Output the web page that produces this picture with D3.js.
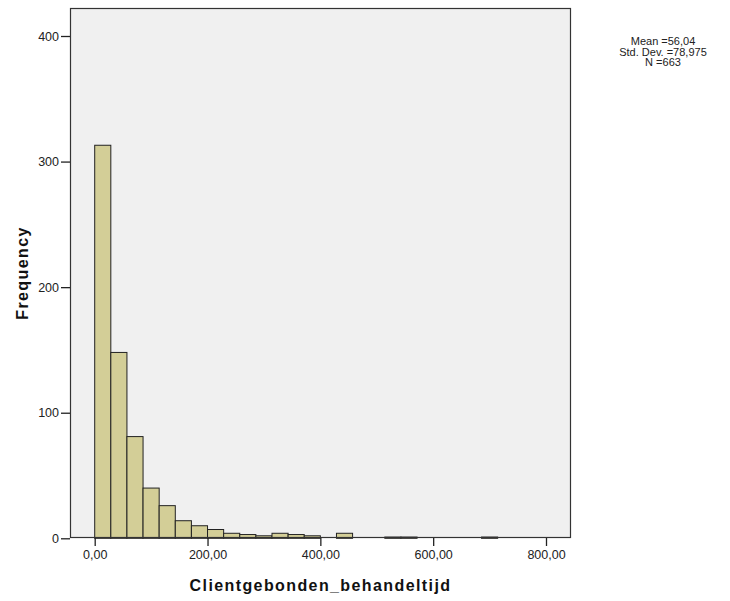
<!DOCTYPE html>
<html>
<head>
<meta charset="utf-8">
<script src="https://cdn.jsdelivr.net/npm/d3@7"></script>
<style>
  body { margin: 0; background: #fff; }
  svg { display: block; font-family: "Liberation Sans", Arial, sans-serif; }
</style>
</head>
<body>
<svg id="chart" width="730" height="601"></svg>
<script>
// Histogram data (bin width 200/7)
const binWidth = 200 / 7;
const counts = [313, 148, 81, 40, 26, 14, 10, 7, 4, 3, 2, 4, 3, 2, 0, 4, 0, 0, 1, 1, 0, 0, 0, 0, 1];
const xTicks = [0, 200, 400, 600, 800];
const yTicks = [0, 100, 200, 300, 400];
const statsLines = ["Mean =56,04", "Std. Dev. =78,975", "N =663"];
const xTitle = "Clientgebonden_behandeltijd";
const yTitle = "Frequency";

const bins = counts.map((c, i) => ({ x0: i * binWidth, x1: (i + 1) * binWidth, count: c }));

const svg = d3.select("#chart");
const frame = { left: 70, top: 8, right: 571, bottom: 538 };

const x = d3.scaleLinear().domain([0, 800]).range([94.7, 546]);
const y = d3.scaleLinear().domain([0, 400]).range([538.3, 36]);

// frame background
svg.append("rect")
  .attr("x", frame.left).attr("y", frame.top)
  .attr("width", frame.right - frame.left).attr("height", frame.bottom - frame.top)
  .attr("fill", "#f0f0f0");

// bars
svg.append("g").selectAll("rect").data(bins.filter(d => d.count > 0)).join("rect")
  .attr("x", d => x(d.x0))
  .attr("width", d => x(d.x1) - x(d.x0))
  .attr("y", d => y(d.count))
  .attr("height", d => y(0) - y(d.count))
  .attr("fill", "#d3ce97")
  .attr("stroke", "#222")
  .attr("stroke-width", 1);

// frame border
svg.append("rect")
  .attr("x", frame.left + 0.5).attr("y", frame.top + 0.5)
  .attr("width", frame.right - frame.left - 1).attr("height", frame.bottom - frame.top - 1)
  .attr("fill", "none").attr("stroke", "#333").attr("stroke-width", 1.2);

const fmt = v => d3.format(".2f")(v).replace(".", ",");

// x axis
const xAxis = svg.append("g")
  .attr("transform", `translate(0,${frame.bottom})`)
  .call(d3.axisBottom(x).tickValues(xTicks).tickFormat(fmt).tickSize(8).tickPadding(4));
xAxis.select(".domain").remove();
xAxis.selectAll(".tick line").attr("stroke", "#222").attr("stroke-width", 1.3);
xAxis.selectAll(".tick text").attr("font-size", "12.5px").attr("fill", "#222")
  .attr("font-family", "'Liberation Sans', Arial, sans-serif");

// y axis
const yAxis = svg.append("g")
  .attr("transform", `translate(${frame.left},0)`)
  .call(d3.axisLeft(y).tickValues(yTicks).tickFormat(d3.format("d")).tickSize(9).tickPadding(2));
yAxis.select(".domain").remove();
yAxis.selectAll(".tick line").attr("stroke", "#222").attr("stroke-width", 1.3);
yAxis.selectAll(".tick text").attr("font-size", "12.5px").attr("fill", "#222")
  .attr("font-family", "'Liberation Sans', Arial, sans-serif");

// titles
svg.append("text")
  .attr("x", (frame.left + frame.right) / 2).attr("y", 591)
  .attr("text-anchor", "middle")
  .attr("font-size", "16px").attr("font-weight", "bold")
  .attr("letter-spacing", "1.4px")
  .attr("fill", "#111")
  .text(xTitle);

svg.append("text")
  .attr("transform", `translate(28,${(frame.top + frame.bottom) / 2}) rotate(-90)`)
  .attr("text-anchor", "middle")
  .attr("font-size", "16px").attr("font-weight", "bold")
  .attr("letter-spacing", "1.4px")
  .attr("fill", "#111")
  .text(yTitle);

// stats
svg.append("g").selectAll("text").data(statsLines).join("text")
  .attr("x", 663).attr("y", (d, i) => 45 + i * 10.6)
  .attr("text-anchor", "middle")
  .attr("font-size", "11px").attr("fill", "#222")
  .text(d => d);
</script>
</body>
</html>
